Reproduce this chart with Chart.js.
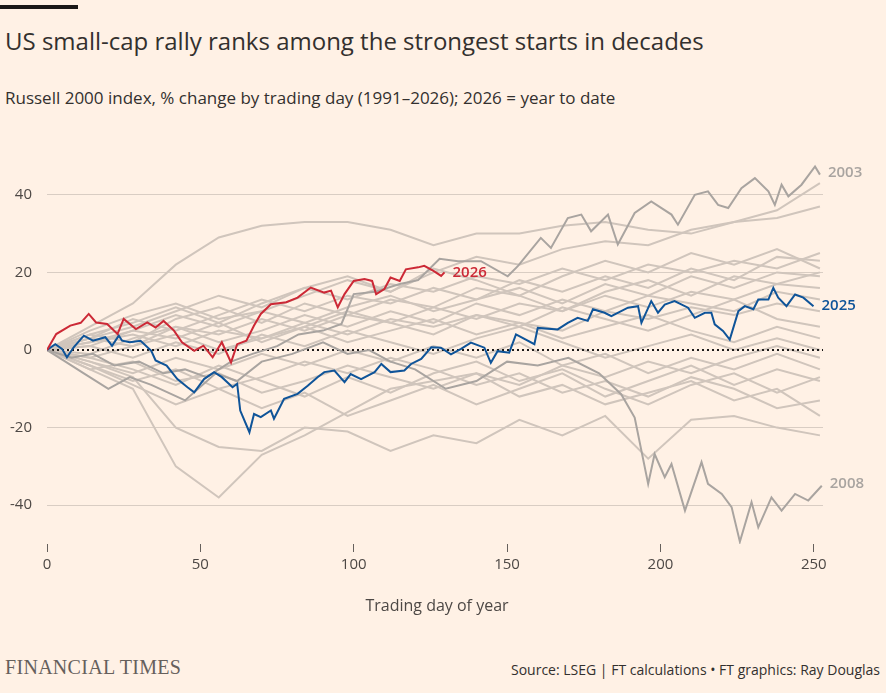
<!DOCTYPE html>
<html>
<head>
<meta charset="utf-8">
<script src="https://cdn.jsdelivr.net/npm/chart.js@4"></script>
<style>
  body { margin: 0; background: #fff1e5; width: 886px; height: 693px; overflow: hidden; font-family: "Open Sans", "Noto Sans", sans-serif; color: #33302e; position: relative; }
  .bar { position: absolute; left: 0; top: 5px; width: 78px; height: 4px; background: #1a1817; }
  .title { position: absolute; left: 5px; top: 24px; font-size: 24px; color: #33302e; }
  .sub { position: absolute; left: 5px; top: 86px; font-size: 17px; color: #33302e; }
  .xtitle { position: absolute; left: 0; width: 874px; text-align: center; top: 594px; font-size: 16px; color: #4d4845; }
  .ft { position: absolute; left: 5px; top: 656px; font-family: "Liberation Serif", "DejaVu Serif", serif; font-size: 20px; color: #66605c; letter-spacing: 0.3px; }
  .src { position: absolute; right: 6px; top: 660px; font-size: 14px; color: #33302e; }
  #wrap { position: absolute; left: 0; top: 131.5px; width: 886px; height: 488.5px; }
</style>
</head>
<body>
<div class="bar"></div>
<div class="title">US small-cap rally ranks among the strongest starts in decades</div>
<div class="sub">Russell 2000 index, % change by trading day (1991–2026); 2026 = year to date</div>
<div id="wrap"><canvas id="chart"></canvas></div>
<div class="xtitle">Trading day of year</div>
<div class="ft">FINANCIAL TIMES</div>
<div class="src">Source: LSEG | FT calculations • FT graphics: Ray Douglas</div>
<script>
// Ось Y: подписи
const yTicks = [-40, -20, 0, 20, 40];
const xTicks = [0, 50, 100, 150, 200, 250];

// 2026 (с начала года)
const days2026 = [0,3,7.6,11,13.6,16,19.6,23,25,29,32.7,35.4,38,41.4,44,48,51,54,57,60,62,65,67.5,69.7,73,78,81.7,86,90.4,92.6,94.8,97,100,103.5,106,107.3,110,112,115,117,121,123,126,128.5,129.6];
const vals2026 = [0,4.1,6.3,7,9.3,7.1,6.7,4.1,8,5.4,7.1,5.8,7.5,5,2,-0.2,1.1,-1.9,2,-3.2,1.5,2.4,6.3,9.3,11.8,12.3,13.5,16.1,14.8,15.3,11,14.4,17.8,18.3,17.8,14.4,15.7,18.7,17.8,20.8,21.3,21.7,20.4,19.1,20];

// 2025
const days2025 = [0,2.7,4.9,6.5,8.7,12,15,19,21.2,23.4,24.5,27,30.5,34,35.4,39,42.5,45.8,48,51.2,54.5,57,60.5,62,63,66,67.5,69.7,73,74,77.3,81.7,85,88.2,90.4,93.7,97,99,102.4,106.8,109,112,116.5,118.7,122,125.3,128.4,131.7,135,138.2,142.6,144.7,146.9,150.7,152.9,158.9,160,166.5,169.8,173,176.3,178,181.8,184,189.4,192.7,193.8,197,199.2,201.4,204.6,209,211.2,214.5,216.6,217.7,220.4,222.6,225.4,227.5,230.3,231.9,235.2,236.8,238.4,241.1,243.9,246.6,249.9];
const vals2025 = [0,1.5,0.3,-1.9,0.7,3.7,2.4,3.3,1.1,3.7,2.4,2,2.4,-0.2,-2.7,-4,-7.5,-9.6,-10.9,-7.5,-5.7,-7,-9.6,-8.7,-15.6,-21.2,-16.5,-17.3,-15.6,-17.7,-12.6,-11.3,-9.2,-7,-5.7,-5.3,-8.3,-6.2,-7.5,-5.7,-3.6,-5.7,-5.3,-3.6,-2.3,0.7,0.6,-1.1,0.3,1.9,0.6,-3.3,-0.3,-0.7,4,1.5,5.7,5.3,7,8.3,7.5,10.5,9.6,8.7,10.9,11.3,7,12.6,9.6,11.7,12.6,10.9,8.3,9.6,9.6,6.6,4.9,2.7,10,11.3,10.5,13,13,16,13.5,11.3,14.3,13.5,11.3];

// 2003
const days2003 = [0,8,15,22,30,38,45,52,60,67,75,82,90,96,100,107,115,121,128,134,141.5,150.2,153.5,161,164.3,169.8,174.2,177.4,182.9,186.1,191.6,197,203.6,205.7,211.2,215.5,218.8,222.1,226.4,230.8,235.2,237.3,239.5,241.7,246,250.4,252];
const vals2003 = [0,-2,-1,-4,-3,-6,-5,-7,-3,-1,1,4,5,6.7,14.4,15,17,18,23.5,22.9,22.9,19,21.6,28.9,26.3,34,34.9,30.6,34.9,27.2,35.3,38.3,34.9,32.3,40,40.9,37.4,36.6,41.7,44.3,40.9,37.4,42.6,39.6,42.6,47.3,45.2];

// 2008
const days2008 = [0,6,12,20,27,34,45,55,62,70,80,90,98,105,112,120,130,140,150,160,170,180,187.2,191.6,196,198.1,201.4,203.6,208,213.4,215.5,220,223.2,225.9,229.7,231.9,236.2,239.5,243.9,248.2,252.6];
const vals2008 = [0,-3,-6,-10,-7,-9,-13,-6,-8,-3,-1,2,-1,0,-3,-5,-10,-8,-3,-4,-2,-6,-11.4,-17.4,-34.5,-26.8,-32.8,-29.4,-41.4,-28.9,-34.5,-37.1,-40.5,-49.4,-39.2,-45.7,-38,-41.4,-37.1,-38.8,-35];

// Остальные годы (по каждым 14 торговым дням)
const greyDays = [0,14,28,42,56,70,84,98,112,126,140,154,168,182,196,210,224,238,252];
const grey1 = [0,5,9,12,8,10,14,18,15,20,24,22,26,28,27,31,33,36,43];
const grey2 = [0,6,12,22,29,32,33,33,31,27,30,30,32,33,31,30,33,34,37];
const grey3 = [0,4,7,11,7,12,16,13,17,15,19,17,21,18,22,20,23,21,25];
const grey4 = [0,3,8,5,9,13,10,14,12,16,13,18,15,19,16,21,18,24,23];
const grey5 = [0,2,5,9,6,10,7,11,14,10,13,16,12,17,14,19,16,20,19];
const grey6 = [0,3,1,6,4,8,5,9,7,11,8,12,10,14,11,15,13,17,16];
const grey7 = [0,-1,3,6,2,5,9,6,10,7,12,9,13,10,14,12,10,15,13];
const grey8 = [0,2,4,1,5,3,7,4,8,6,9,7,5,10,8,11,9,12,10];
const grey9 = [0,-2,1,4,0,3,6,2,5,8,4,7,3,6,9,5,2,6,3];
const grey10 = [0,1,-2,2,-1,4,1,5,2,-1,3,6,2,-2,1,4,0,3,0];
const grey11 = [0,-3,-6,-2,-5,-1,-4,0,-3,1,-2,2,-4,-1,-6,-2,-5,-1,-5];
const grey12 = [0,-4,-8,-5,-10,-7,-3,-6,-2,-5,-9,-6,-11,-8,-12,-7,-10,-15,-13];
const grey13 = [0,-5,-3,-8,-6,-11,-8,-4,-7,-10,-6,-12,-9,-14,-11,-8,-13,-10,-17];
const grey14 = [0,-3,-7,-20,-25,-26,-20,-21,-26,-22,-24,-18,-22,-17,-28,-18,-17,-20,-22];
const grey15 = [0,-5,-10,-30,-38,-27,-22,-16,-10,-8,-6,-9,-4,-7,-3,-6,-2,1,-2];
const grey16 = [0,-4,-9,-14,-10,-15,-11,-17,-13,-9,-14,-10,-6,-12,-8,-4,-9,-5,-8];
const grey17 = [0,3,6,10,14,11,16,19,15,21,18,14,19,23,20,25,22,26,21];
const grey18 = [0,4,2,8,11,7,12,9,13,11,16,14,10,15,18,14,19,17,20];
const grey19 = [0,1,5,3,7,2,6,10,7,4,9,6,11,8,5,9,13,8,6];
const grey20 = [0,-2,-5,-9,-4,-8,-12,-7,-11,-6,-3,-8,-5,-10,-14,-9,-6,-11,-7];
const greyLines = [grey1,grey2,grey3,grey4,grey5,grey6,grey7,grey8,grey9,grey10,grey11,grey12,grey13,grey14,grey15,grey16,grey17,grey18,grey19,grey20];

function toPoints(xs, ys) {
  return xs.map((x, i) => ({ x: x, y: ys[i] }));
}

const datasets = [];
datasets.push({ label: "2026", data: toPoints(days2026, vals2026), borderColor: "#cc2936", borderWidth: 2, order: 0 });
datasets.push({ label: "2025", data: toPoints(days2025, vals2025), borderColor: "#0f5499", borderWidth: 2, order: 1 });
datasets.push({ label: "2003", data: toPoints(days2003, vals2003), borderColor: "#a9a4a0", borderWidth: 2, order: 2 });
datasets.push({ label: "2008", data: toPoints(days2008, vals2008), borderColor: "#a9a4a0", borderWidth: 2, order: 2 });
datasets.push({ label: "zero", data: [{ x: 0, y: 0 }, { x: 253, y: 0 }], borderColor: "#1a1817", borderWidth: 2, borderDash: [2, 3], order: 3 });
greyLines.forEach(g => {
  datasets.push({ label: "", data: toPoints(greyDays, g), borderColor: "#d0c5bc", borderWidth: 2, order: 4 });
});

// Подписи у концов линий
const endLabels = {
  id: "endLabels",
  afterDatasetsDraw(chart) {
    const ctx = chart.ctx;
    const xs = chart.scales.x, ys = chart.scales.y;
    const items = [
      ["2026", days2026, vals2026, "#cc2936"],
      ["2025", days2025, vals2025, "#0f5499"],
      ["2003", days2003, vals2003, "#a9a4a0"],
      ["2008", days2008, vals2008, "#a9a4a0"]
    ];
    ctx.save();
    ctx.font = "600 15px 'Open Sans', sans-serif";
    ctx.textBaseline = "middle";
    items.forEach(([t, d, v, c]) => {
      const n = d.length - 1;
      const px = xs.getPixelForValue(d[n]) + 8;
      let py = ys.getPixelForValue(v[n]);
      if (t === "2003" || t === "2008") py -= 2;
      ctx.fillStyle = c;
      ctx.fillText(t, px, py);
    });
    ctx.restore();
  }
};

const ctx = document.getElementById("chart").getContext("2d");
new Chart(ctx, {
  type: "line",
  data: { datasets: datasets },
  plugins: [endLabels],
  options: {
    responsive: true,
    maintainAspectRatio: false,
    animation: false,
    layout: { padding: { top: 6, right: 63, left: 0, bottom: 0 } },
    elements: { point: { radius: 0 }, line: { tension: 0 } },
    plugins: { legend: { display: false }, tooltip: { enabled: false } },
    scales: {
      x: {
        type: "linear", min: 0, max: 253,
        afterBuildTicks: s => { s.ticks = xTicks.map(v => ({ value: v })); },
        afterFit: s => { s.height = 76.5; },
        border: { display: false },
        grid: { drawOnChartArea: false, drawTicks: true, tickLength: 8, color: "#66605c" },
        ticks: { color: "#4d4845", font: { size: 15, family: "'Open Sans', sans-serif" }, padding: 4 }
      },
      y: {
        min: -50, max: 50,
        afterBuildTicks: s => { s.ticks = yTicks.map(v => ({ value: v })); },
        afterFit: s => { s.width = 47; },
        border: { display: false },
        grid: { color: c => c.tick && c.tick.value === 0 ? "rgba(0,0,0,0)" : "#d9cdc3", drawTicks: false },
        ticks: { color: "#4d4845", font: { size: 15, family: "'Open Sans', sans-serif" }, padding: 15, callback: v => v }
      }
    }
  }
});
</script>
</body>
</html>
